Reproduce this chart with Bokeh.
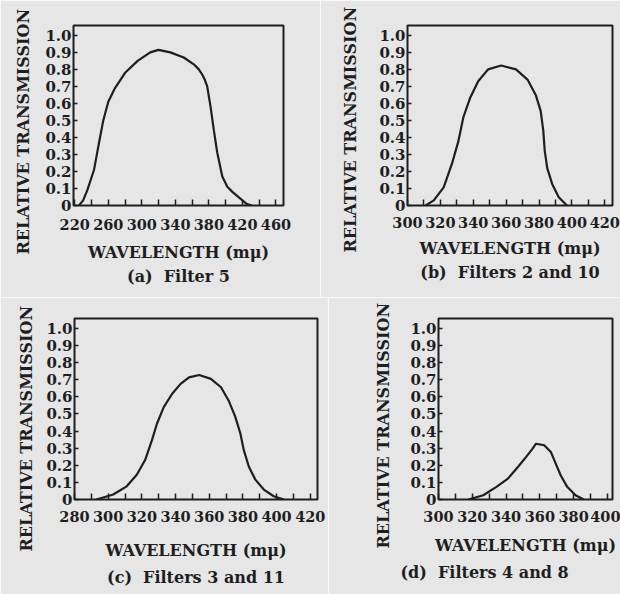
from bokeh.plotting import figure
from bokeh.layouts import row, column
from bokeh.models import Range1d, FixedTicker, Title
from bokeh.embed import file_html
from bokeh.resources import INLINE

FONT = "DejaVu Serif"
BG = "#e6e6e6"
INK = "#1e1e1e"

# ---- data ----
y_ticks = [0.0, 0.1, 0.2, 0.3, 0.4, 0.5, 0.6, 0.7, 0.8, 0.9, 1.0]
y_tick_labels = ["0", "0.1", "0.2", "0.3", "0.4", "0.5", "0.6", "0.7", "0.8", "0.9", "1.0"]
x_label = "WAVELENGTH (m\u03bc)"
y_label = "RELATIVE TRANSMISSION"

# (a) Filter 5
a_major = [220, 260, 300, 340, 380, 420, 460]
a_minor = [240, 280, 320, 360, 400, 440]
a_wave = [225, 230, 235, 239, 243, 246, 249, 254, 260, 268, 280, 295, 310, 320, 334, 350, 362,
          368, 372, 375, 378, 382, 386, 390, 396, 402, 408, 414, 420, 425, 431]
a_trans = [0.0, 0.03, 0.09, 0.15, 0.21, 0.29, 0.37, 0.5, 0.61, 0.69, 0.78, 0.85, 0.9, 0.915, 0.9,
           0.87, 0.83, 0.8, 0.77, 0.74, 0.7, 0.58, 0.44, 0.31, 0.17, 0.11, 0.08, 0.055, 0.03, 0.01, 0.0]

# (b) Filters 2 and 10
b_major = [300, 320, 340, 360, 380, 400, 420]
b_minor = [310, 330, 350, 370, 390, 410]
b_wave = [311, 316, 322, 327, 331, 334, 338, 343, 349, 357, 366, 373, 378, 381, 382.6, 383.5,
          385, 388, 392, 397]
b_trans = [0.0, 0.03, 0.107, 0.244, 0.38, 0.52, 0.63, 0.73, 0.8, 0.823, 0.8, 0.74, 0.65, 0.556,
           0.44, 0.32, 0.22, 0.127, 0.049, 0.0]

# (c) Filters 3 and 11
c_major = [280, 300, 320, 340, 360, 380, 400, 420]
c_minor = [290, 310, 330, 350, 370, 390, 410]
c_wave = [293, 303, 311, 317, 322, 326, 329, 333, 338, 343, 348, 354, 361, 367, 371.5, 375.5,
          378.5, 380.5, 383.5, 387.4, 392.4, 398.3, 404.3]
c_trans = [0.0, 0.029, 0.077, 0.145, 0.232, 0.347, 0.444, 0.54, 0.618, 0.676, 0.714, 0.728,
           0.705, 0.656, 0.579, 0.483, 0.386, 0.29, 0.193, 0.116, 0.058, 0.019, 0.0]

# (d) Filters 4 and 8
d_major = [300, 320, 340, 360, 380, 400]
d_minor = [310, 330, 350, 370, 390]
d_wave = [317.7, 326.5, 334.3, 341.1, 347, 351.9, 355.7, 357.7, 362.6, 366.5, 369.4, 372.3,
          376.2, 381.1, 386]
d_trans = [0.0, 0.025, 0.074, 0.122, 0.19, 0.249, 0.297, 0.326, 0.317, 0.278, 0.21, 0.142,
           0.074, 0.025, 0.0]

NB = "\u00a0"
captions = ["(a)" + NB + NB + "Filter 5", "(b)" + NB + NB + "Filters 2 and 10",
            "(c)" + NB + NB + "Filters 3 and 11", "(d)" + NB + NB + "Filters 4 and 8"]


def panel(width, height, borders, xr, major, minor, xs, ys, caption,
          cap_align, cap_offset, cap_standoff, tick_standoff, label_standoff,
          ylab_offset, ylab_standoff):
    left, right, top, bottom = borders
    p = figure(width=width, height=height, x_range=Range1d(*xr), y_range=Range1d(0, 1.058),
               output_backend="svg", toolbar_location=None,
               min_border_left=left, min_border_right=right,
               min_border_top=top, min_border_bottom=bottom)
    p.background_fill_color = BG
    p.border_fill_color = BG
    p.outline_line_color = INK
    p.outline_line_width = 2
    p.grid.visible = False

    p.line(xs, ys, line_color=INK, line_width=2.2)

    xa = p.xaxis[0]
    xa.ticker = FixedTicker(ticks=major, minor_ticks=minor)
    xa.axis_line_color = None
    xa.major_tick_in = 6
    xa.major_tick_out = 0
    xa.minor_tick_in = 6
    xa.minor_tick_out = 0
    xa.major_tick_line_color = INK
    xa.minor_tick_line_color = INK
    xa.major_tick_line_width = 1.5
    xa.minor_tick_line_width = 1.5
    xa.major_label_text_font = FONT
    xa.major_label_text_font_style = "bold"
    xa.major_label_text_font_size = "14.5px"
    xa.major_label_text_color = INK
    xa.major_label_standoff = tick_standoff
    xa.axis_label = x_label
    xa.axis_label_text_font = FONT
    xa.axis_label_text_font_style = "bold"
    xa.axis_label_text_font_size = "16px"
    xa.axis_label_text_color = INK
    xa.axis_label_standoff = label_standoff

    ya = p.yaxis[0]
    ya.ticker = FixedTicker(ticks=y_ticks)
    ya.major_label_overrides = {t: l for t, l in zip(y_ticks, y_tick_labels)}
    ya.axis_line_color = None
    ya.major_tick_in = 4
    ya.major_tick_out = 0
    ya.minor_tick_in = 0
    ya.minor_tick_out = 0
    ya.major_tick_line_color = INK
    ya.major_tick_line_width = 1.5
    ya.major_label_text_font = FONT
    ya.major_label_text_font_style = "bold"
    ya.major_label_text_font_size = "15px"
    ya.major_label_text_color = INK
    ya.major_label_standoff = 2

    p.add_layout(Title(text=y_label, align="left", offset=ylab_offset, standoff=ylab_standoff,
                       text_font=FONT, text_font_style="bold", text_font_size="16px",
                       text_color=INK), "left")
    p.add_layout(Title(text=caption, align=cap_align, offset=cap_offset, standoff=cap_standoff,
                       vertical_align="top",
                       text_font=FONT, text_font_style="bold", text_font_size="16px",
                       text_color=INK), "below")
    return p


pa = panel(320, 297, (73, 37, 25, 91), (218.5, 469), a_major, a_minor, a_wave, a_trans,
           captions[0], "center", 0, 4, 13, 10, -49, 20)
pb = panel(300, 297, (87, 8, 24, 92), (300, 424.7), b_major, b_minor, b_wave, b_trans,
           captions[1], "center", 0, 4, 11, 8, -47, 34)
pc = panel(328, 297, (74, 11, 21, 94), (280, 424.3), c_major, c_minor, c_wave, c_trans,
           captions[2], "center", 0, 10, 11, 16, -52, 16)
pd = panel(292, 297, (110, 8, 21, 95), (300, 403), d_major, d_minor, d_wave, d_trans,
           captions[3], "left", -38, 11, 11, 11, -49, 29)

p = column(row(pa, pb, spacing=0), row(pc, pd, spacing=0), spacing=0)

open("out.html", "w").write(file_html(p, INLINE))
